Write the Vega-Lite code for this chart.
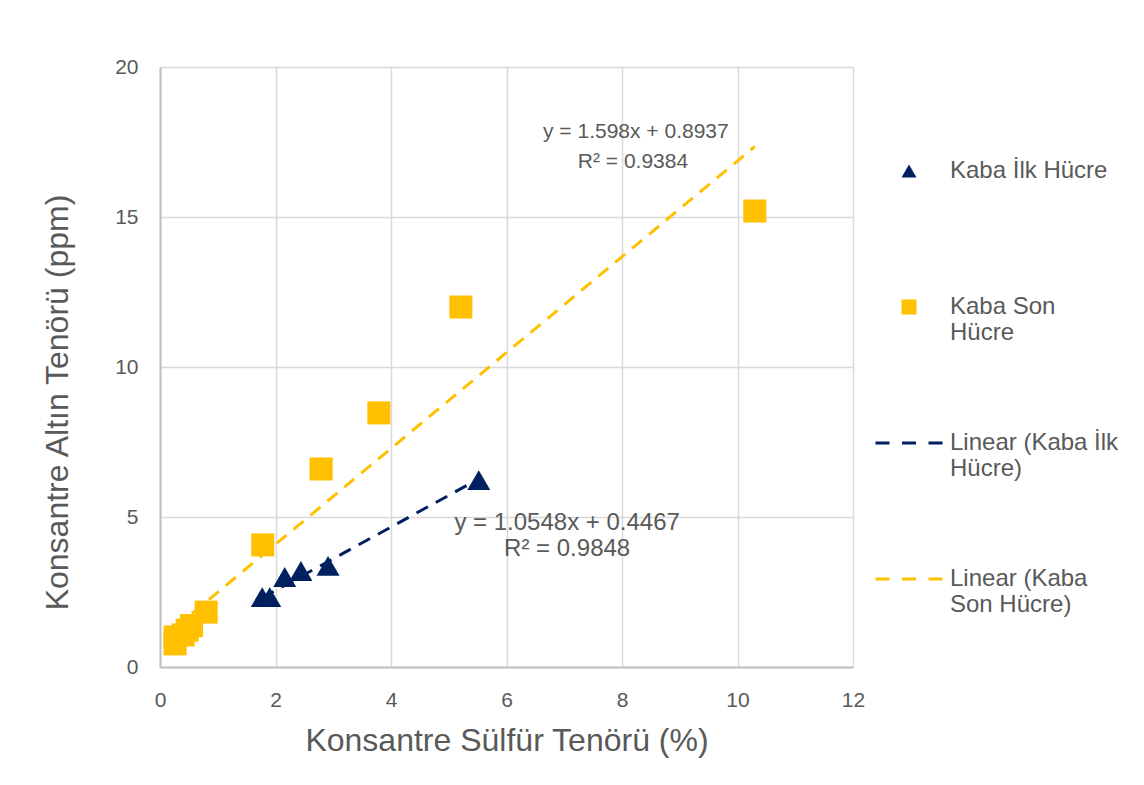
{
  "$schema": "https://vega.github.io/schema/vega-lite/v6.json",
  "width": 693,
  "height": 600,
  "autosize": {"type": "none"},
  "padding": {"left": 160, "top": 67, "right": 291, "bottom": 118},
  "background": "white",
  "config": {
    "font": "Liberation Sans",
    "view": {"stroke": null},
    "axis": {
      "gridColor": "#d9d9d9",
      "gridWidth": 1.5,
      "domainColor": "#bfbfbf",
      "domainWidth": 2,
      "ticks": false,
      "labelFlush": false,
      "labelFont": "Liberation Sans",
      "labelFontSize": 21,
      "labelColor": "#595959",
      "titleFont": "Liberation Sans",
      "titleFontSize": 32,
      "titleFontWeight": "normal",
      "titleColor": "#595959"
    },
    "legend": {
      "title": null,
      "orient": "none",
      "legendX": 737,
      "legendY": 92,
      "padding": 0,
      "symbolSize": 225,
      "symbolStrokeWidth": 0,
      "labelFont": "Liberation Sans",
      "labelFontSize": 24,
      "labelColor": "#595959",
      "labelLimit": 400,
      "labelOffset": 29,
      "rowPadding": 86
    }
  },
  "datasets": {
    "points": [
      {"series": "Kaba İlk Hücre", "sulfur": 1.77, "gold": 2.33},
      {"series": "Kaba İlk Hücre", "sulfur": 1.90, "gold": 2.33},
      {"series": "Kaba İlk Hücre", "sulfur": 2.16, "gold": 3.0},
      {"series": "Kaba İlk Hücre", "sulfur": 2.44, "gold": 3.2},
      {"series": "Kaba İlk Hücre", "sulfur": 2.91, "gold": 3.37},
      {"series": "Kaba İlk Hücre", "sulfur": 5.52, "gold": 6.23},
      {"series": "Kaba Son Hücre", "sulfur": 0.26, "gold": 0.77},
      {"series": "Kaba Son Hücre", "sulfur": 0.26, "gold": 1.0},
      {"series": "Kaba Son Hücre", "sulfur": 0.40, "gold": 1.07},
      {"series": "Kaba Son Hücre", "sulfur": 0.47, "gold": 1.23},
      {"series": "Kaba Son Hücre", "sulfur": 0.545, "gold": 1.38},
      {"series": "Kaba Son Hücre", "sulfur": 0.80, "gold": 1.83},
      {"series": "Kaba Son Hücre", "sulfur": 1.78, "gold": 4.07},
      {"series": "Kaba Son Hücre", "sulfur": 2.79, "gold": 6.6},
      {"series": "Kaba Son Hücre", "sulfur": 3.79, "gold": 8.47},
      {"series": "Kaba Son Hücre", "sulfur": 5.21, "gold": 12.0},
      {"series": "Kaba Son Hücre", "sulfur": 10.30, "gold": 15.2}
    ],
    "trends": [
      {"series": "Linear (Kaba İlk Hücre)", "sulfur": 1.77, "gold": 2.31},
      {"series": "Linear (Kaba İlk Hücre)", "sulfur": 5.52, "gold": 6.27},
      {"series": "Linear (Kaba Son Hücre)", "sulfur": 0.26, "gold": 1.31},
      {"series": "Linear (Kaba Son Hücre)", "sulfur": 10.30, "gold": 17.35}
    ],
    "labels": [
      {"trend": "Son", "sulfur": 8.24, "gold": 17.85, "text": "y = 1.598x + 0.8937"},
      {"trend": "Son", "sulfur": 8.19, "gold": 16.85, "text": "R² = 0.9384"},
      {"trend": "İlk", "sulfur": 7.05, "gold": 4.8, "text": "y = 1.0548x + 0.4467"},
      {"trend": "İlk", "sulfur": 7.05, "gold": 3.92, "text": "R² = 0.9848"}
    ]
  },
  "encoding": {
    "x": {
      "field": "sulfur", "type": "quantitative",
      "scale": {"domain": [0, 12], "nice": false, "zero": false},
      "axis": {"values": [0, 2, 4, 6, 8, 10, 12], "title": "Konsantre Sülfür Tenörü (%)", "labelPadding": 22, "titlePadding": 15}
    },
    "y": {
      "field": "gold", "type": "quantitative",
      "scale": {"domain": [0, 20], "nice": false, "zero": false},
      "axis": {"values": [0, 5, 10, 15, 20], "title": "Konsantre Altın Tenörü (ppm)", "labelPadding": 22, "titlePadding": 40, "titleY": 335}
    }
  },
  "layer": [
    {
      "data": {"name": "trends"},
      "transform": [{"filter": "datum.series == 'Linear (Kaba Son Hücre)'"}],
      "mark": {"type": "line", "color": "#FFC000", "strokeWidth": 3, "strokeDash": [13, 9]}
    },
    {
      "data": {"name": "trends"},
      "transform": [{"filter": "datum.series == 'Linear (Kaba İlk Hücre)'"}],
      "mark": {"type": "line", "color": "#002060", "strokeWidth": 3, "strokeDash": [13, 9]}
    },
    {
      "data": {"name": "points"},
      "mark": {"type": "point", "filled": true, "opacity": 1, "size": 530},
      "encoding": {
        "color": {
          "field": "series", "type": "nominal",
          "scale": {
            "domain": ["Kaba İlk Hücre", "Kaba Son Hücre", "Linear (Kaba İlk Hücre)", "Linear (Kaba Son Hücre)"],
            "range": ["#002060", "#FFC000", "#002060", "#FFC000"]
          },
          "legend": {
            "labelExpr": "datum.label == 'Kaba İlk Hücre' ? ['Kaba İlk Hücre', ''] : datum.label == 'Kaba Son Hücre' ? ['Kaba Son', 'Hücre'] : datum.label == 'Linear (Kaba İlk Hücre)' ? ['Linear (Kaba İlk', 'Hücre)'] : ['Linear (Kaba', 'Son Hücre)']",
            "encode": {"labels": {"enter": {"lineHeight": {"value": 28}}, "update": {"lineHeight": {"value": 28}}}}
          }
        },
        "shape": {
          "field": "series", "type": "nominal",
          "scale": {
            "domain": ["Kaba İlk Hücre", "Kaba Son Hücre", "Linear (Kaba İlk Hücre)", "Linear (Kaba Son Hücre)"],
            "range": ["triangle-up", "square", "M-4.47,-0.2H-2.6V0.2H-4.47Z M-0.93,-0.2H0.93V0.2H-0.93Z M2.6,-0.2H4.47V0.2H2.6Z", "M-4.47,-0.2H-2.6V0.2H-4.47Z M-0.93,-0.2H0.93V0.2H-0.93Z M2.6,-0.2H4.47V0.2H2.6Z"]
          },
          "legend": {
            "labelExpr": "datum.label == 'Kaba İlk Hücre' ? ['Kaba İlk Hücre', ''] : datum.label == 'Kaba Son Hücre' ? ['Kaba Son', 'Hücre'] : datum.label == 'Linear (Kaba İlk Hücre)' ? ['Linear (Kaba İlk', 'Hücre)'] : ['Linear (Kaba', 'Son Hücre)']",
            "encode": {"labels": {"enter": {"lineHeight": {"value": 28}}, "update": {"lineHeight": {"value": 28}}}}
          }
        }
      }
    },
    {
      "data": {"name": "labels"},
      "transform": [{"filter": "datum.trend == 'Son'"}],
      "mark": {"type": "text", "font": "Liberation Sans", "fontSize": 21, "color": "#595959", "align": "center", "baseline": "middle"},
      "encoding": {"text": {"field": "text"}}
    },
    {
      "data": {"name": "labels"},
      "transform": [{"filter": "datum.trend == 'İlk'"}],
      "mark": {"type": "text", "font": "Liberation Sans", "fontSize": 24, "color": "#595959", "align": "center", "baseline": "middle"},
      "encoding": {"text": {"field": "text"}}
    }
  ]
}
